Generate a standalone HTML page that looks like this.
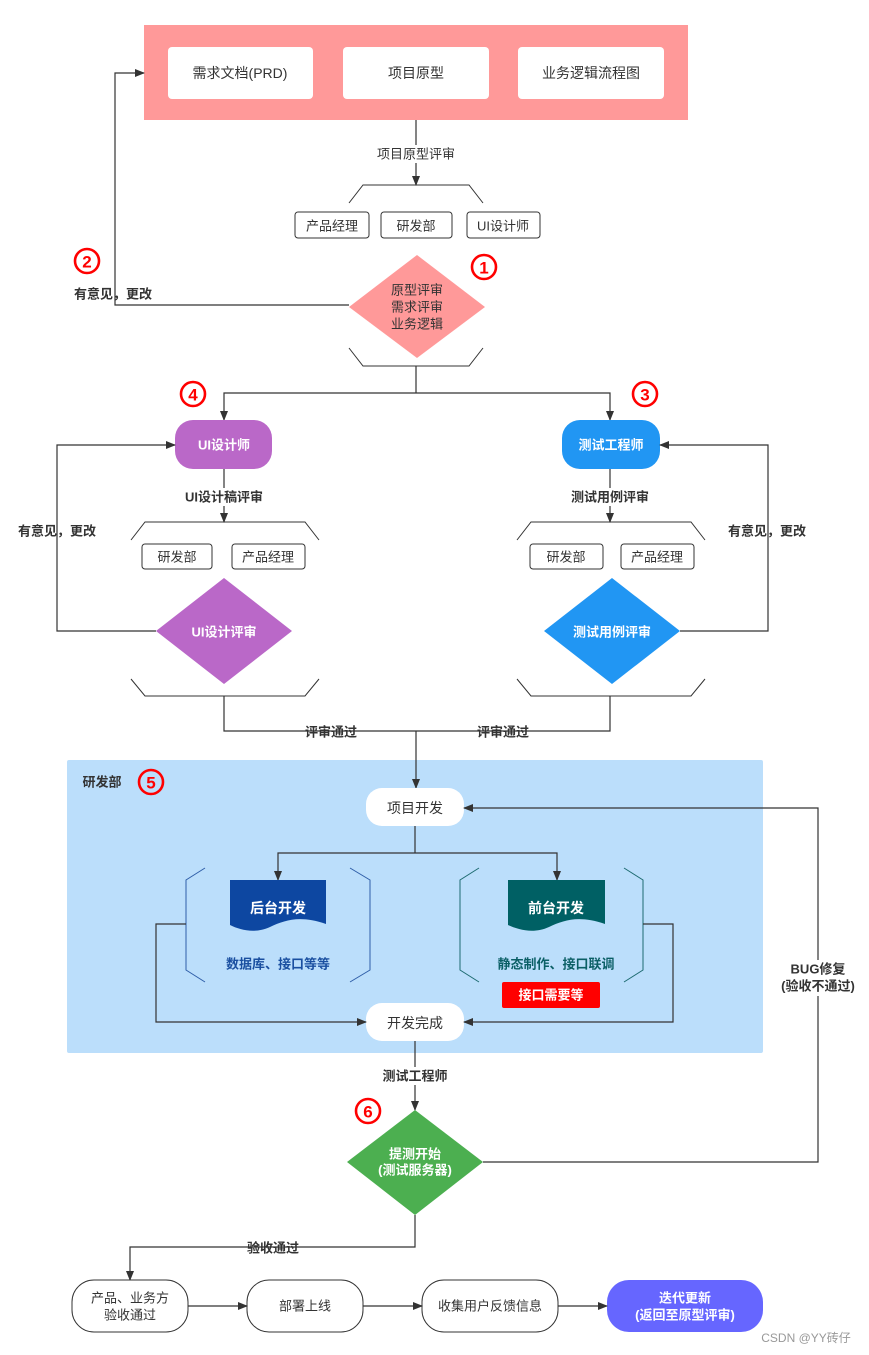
<!DOCTYPE html>
<html><head><meta charset="utf-8"><style>
html,body{margin:0;padding:0;background:#fff}
svg{display:block}
text{font-family:"Liberation Sans","Noto Sans CJK SC",sans-serif;font-size:13px;fill:#333;text-anchor:middle;dominant-baseline:central}
.b{font-weight:bold}
.w{fill:#fff;font-weight:bold}
.nc{fill:none;stroke:#f00;stroke-width:2.6}
.nt{fill:#f00;font-weight:bold;font-size:17px}
.ln{stroke:#333;stroke-width:1.2;fill:none}
.br{stroke:#333;stroke-width:1;fill:none}
</style></head><body>
<svg width="869" height="1355" viewBox="0 0 869 1355" xmlns="http://www.w3.org/2000/svg">
<defs><marker id="a" markerWidth="10" markerHeight="10" refX="9" refY="5" orient="auto" markerUnits="userSpaceOnUse"><path d="M0,1 L10,5 L0,9 z" fill="#333"/></marker></defs>

<rect x="144" y="25" width="544" height="95" fill="#FF9999"/>
<rect x="168" y="47" width="145" height="52" rx="4" fill="#fff"/>
<rect x="343" y="47" width="146" height="52" rx="4" fill="#fff"/>
<rect x="518" y="47" width="146" height="52" rx="4" fill="#fff"/>
<text x="240" y="73" style="font-size:14px">需求文档(PRD)</text>
<text x="416" y="73" style="font-size:14px">项目原型</text>
<text x="591" y="73" style="font-size:14px">业务逻辑流程图</text>

<line class="ln" x1="416" y1="120" x2="416" y2="185" marker-end="url(#a)"/>
<rect x="372" y="145" width="90" height="18" fill="#fff"/>
<text x="416" y="154">项目原型评审</text>
<path class="br" d="M349,203 L363,185 L469,185 L483,203"/>
<rect x="295" y="212" width="74" height="26" rx="3" fill="#fff" stroke="#333"/>
<rect x="381" y="212" width="71" height="26" rx="3" fill="#fff" stroke="#333"/>
<rect x="467" y="212" width="73" height="26" rx="3" fill="#fff" stroke="#333"/>
<text x="332" y="226">产品经理</text><text x="416" y="226">研发部</text><text x="503" y="226">UI设计师</text>

<polygon points="417,255 485,307 417,358 349,307" fill="#FF9999"/>
<text x="417" y="290">原型评审</text><text x="417" y="307">需求评审</text><text x="417" y="324">业务逻辑</text>
<circle class="nc" cx="484" cy="267" r="12"/><text class="nt" x="484" y="268">1</text>
<path class="ln" d="M349,305 L115,305 L115,73 L144,73" marker-end="url(#a)"/>
<text class="b" x="113" y="294">有意见，更改</text>
<circle class="nc" cx="87" cy="261" r="12"/><text class="nt" x="87" y="262">2</text>
<path class="br" d="M349,348 L363,366 L469,366 L483,348"/>
<path class="ln" d="M416,366 L416,393"/>
<path class="ln" d="M416,393 L224,393 L224,420" marker-end="url(#a)"/>
<path class="ln" d="M416,393 L610,393 L610,420" marker-end="url(#a)"/>
<circle class="nc" cx="193" cy="394" r="12"/><text class="nt" x="193" y="395">4</text>
<circle class="nc" cx="645" cy="394" r="12"/><text class="nt" x="645" y="395">3</text>

<rect x="175" y="420" width="97" height="49" rx="18" fill="#BA68C8"/>
<text class="w" x="224" y="445">UI设计师</text>
<rect x="562" y="420" width="98" height="49" rx="18" fill="#2196F3"/>
<text class="w" x="611" y="445">测试工程师</text>

<line class="ln" x1="224" y1="469" x2="224" y2="522" marker-end="url(#a)"/>
<rect x="176" y="488" width="96" height="18" fill="#fff"/>
<text class="b" x="224" y="497">UI设计稿评审</text>
<path class="br" d="M131,540 L145,522 L305,522 L319,540"/>
<rect x="142" y="544" width="70" height="25" rx="3" fill="#fff" stroke="#333"/>
<rect x="232" y="544" width="73" height="25" rx="3" fill="#fff" stroke="#333"/>
<text x="177" y="557">研发部</text><text x="268" y="557">产品经理</text>
<polygon points="224,578 292,631 224,684 156,631" fill="#BA68C8"/>
<text class="w" x="224" y="632">UI设计评审</text>
<path class="br" d="M131,679 L145,696 L305,696 L319,679"/>
<path class="ln" d="M156,631 L57,631 L57,445 L175,445" marker-end="url(#a)"/>
<text class="b" x="57" y="531">有意见，更改</text>

<line class="ln" x1="610" y1="469" x2="610" y2="522" marker-end="url(#a)"/>
<rect x="564" y="488" width="94" height="18" fill="#fff"/>
<text class="b" x="610" y="497">测试用例评审</text>
<path class="br" d="M517,540 L531,522 L691,522 L705,540"/>
<rect x="530" y="544" width="73" height="25" rx="3" fill="#fff" stroke="#333"/>
<rect x="621" y="544" width="73" height="25" rx="3" fill="#fff" stroke="#333"/>
<text x="566" y="557">研发部</text><text x="657" y="557">产品经理</text>
<polygon points="612,578 680,631 612,684 544,631" fill="#2196F3"/>
<text class="w" x="612" y="632">测试用例评审</text>
<path class="br" d="M517,679 L531,696 L691,696 L705,679"/>
<path class="ln" d="M680,631 L768,631 L768,445 L660,445" marker-end="url(#a)"/>
<text class="b" x="767" y="531">有意见，更改</text>

<path class="ln" d="M224,696 L224,731 L416,731"/>
<path class="ln" d="M610,696 L610,731 L416,731"/>
<text class="b" x="331" y="732">评审通过</text>
<text class="b" x="503" y="732">评审通过</text>

<rect x="67" y="760" width="696" height="293" rx="2" fill="#BBDEFB"/>
<path class="ln" d="M416,731 L416,788" marker-end="url(#a)"/>
<text class="b" x="102" y="782">研发部</text>
<circle class="nc" cx="151" cy="782" r="12"/><text class="nt" x="151" y="783">5</text>
<rect x="366" y="788" width="98" height="38" rx="16" fill="#fff"/>
<text x="415" y="808" style="font-size:14px">项目开发</text>
<path class="ln" d="M415,826 L415,853"/>
<path class="ln" d="M415,853 L278,853 L278,880" marker-end="url(#a)"/>
<path class="ln" d="M415,853 L557,853 L557,880" marker-end="url(#a)"/>

<path d="M205,868 L186,880 L186,970 L205,982 M350,868 L370,880 L370,970 L350,982" stroke="#2f5ea8" fill="none"/>
<path d="M230,880 L326,880 L326,924 C300,915 285,920 270,927 C255,934 240,930 230,925 Z" fill="#0D47A1"/>
<text class="w" x="278" y="908" style="font-size:14px">后台开发</text>
<text class="b" x="278" y="964" style="fill:#1a4fa0">数据库、接口等等</text>

<path d="M479,868 L460,880 L460,970 L479,982 M624,868 L643,880 L643,970 L624,982" stroke="#1d6b70" fill="none"/>
<path d="M508,880 L605,880 L605,924 C579,915 564,920 549,927 C534,934 519,930 508,925 Z" fill="#006064"/>
<text class="w" x="556" y="908" style="font-size:14px">前台开发</text>
<text class="b" x="556" y="964" style="fill:#0b5f66">静态制作、接口联调</text>
<rect x="502" y="982" width="98" height="26" rx="2" fill="#f00"/>
<text class="w" x="551" y="995">接口需要等</text>

<rect x="366" y="1003" width="98" height="38" rx="16" fill="#fff"/>
<text x="415" y="1023" style="font-size:14px">开发完成</text>
<path class="ln" d="M186,924 L156,924 L156,1022 L366,1022" marker-end="url(#a)"/>
<path class="ln" d="M643,924 L673,924 L673,1022 L464,1022" marker-end="url(#a)"/>

<path class="ln" d="M415,1041 L415,1110" marker-end="url(#a)"/>
<rect x="375" y="1067" width="80" height="18" fill="#fff"/>
<text class="b" x="415" y="1076">测试工程师</text>
<circle class="nc" cx="368" cy="1111" r="12"/><text class="nt" x="368" y="1112">6</text>
<polygon points="415,1110 483,1162 415,1215 347,1162" fill="#4CAF50"/>
<text class="w" x="415" y="1154">提测开始</text>
<text class="w" x="415" y="1170">(测试服务器)</text>
<path class="ln" d="M483,1162 L818,1162 L818,808 L464,808" marker-end="url(#a)"/>
<rect x="778" y="960" width="80" height="36" fill="#fff"/>
<text class="b" x="818" y="969">BUG修复</text>
<text class="b" x="818" y="986">(验收不通过)</text>

<path class="ln" d="M415,1215 L415,1247 L130,1247 L130,1280" marker-end="url(#a)"/>
<text class="b" x="273" y="1248">验收通过</text>

<rect x="72" y="1280" width="116" height="52" rx="22" fill="#fff" stroke="#333"/>
<text x="130" y="1298">产品、业务方</text><text x="130" y="1315">验收通过</text>
<rect x="247" y="1280" width="116" height="52" rx="22" fill="#fff" stroke="#333"/>
<text x="305" y="1306">部署上线</text>
<rect x="422" y="1280" width="136" height="52" rx="22" fill="#fff" stroke="#333"/>
<text x="490" y="1306">收集用户反馈信息</text>
<rect x="607" y="1280" width="156" height="52" rx="22" fill="#6666FF"/>
<text class="w" x="685" y="1298">迭代更新</text><text class="w" x="685" y="1315">(返回至原型评审)</text>
<path class="ln" d="M188,1306 L247,1306" marker-end="url(#a)"/>
<path class="ln" d="M363,1306 L422,1306" marker-end="url(#a)"/>
<path class="ln" d="M558,1306 L607,1306" marker-end="url(#a)"/>
<text x="806" y="1338" style="fill:#999;font-size:12px">CSDN @YY砖仔</text>
</svg>
</body></html>
